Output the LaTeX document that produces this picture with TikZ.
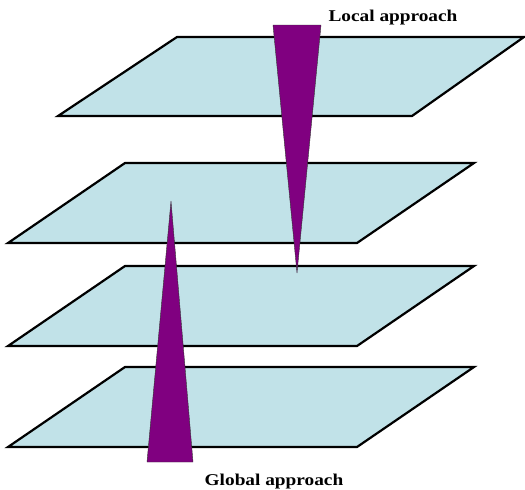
\documentclass[tikz,border=0pt]{standalone}
\usepackage{fontspec}
\newfontfamily\labelfont[FakeStretch=1.17]{Liberation Serif}
\usepackage{tikz}
\definecolor{planeblue}{RGB}{193,226,232}
\definecolor{wedgepurple}{RGB}{128,0,128}

\begin{document}
\begin{tikzpicture}[x=1pt,y=-1pt,
  plane/.style={fill=planeblue,draw=black,line width=2.2pt},
  wedge/.style={fill=wedgepurple,draw=black!80,line width=0.4pt},
  lbl/.style={font=\labelfont\bfseries\fontsize{16.5}{18}\selectfont,inner sep=0pt}]
  \useasboundingbox (0,0) rectangle (525,490);
  % the four planes, the top one sits further right
  \draw[plane] (177,37) -- (524,37) -- (412,116) -- (58,116) -- cycle;
  \foreach \t in {163,266,367}
    \draw[plane] (125,\t) -- (474,\t) -- (357,\t+80) -- (8,\t+80) -- cycle;
  % local wedge, narrowing downwards
  \coordinate (La) at (273,25); \coordinate (Lb) at (321,25); \coordinate (Ltip) at (297,273);
  \draw[wedge] (La) -- (Lb) -- (Ltip) -- cycle;
  % global wedge, narrowing upwards
  \coordinate (Ga) at (147,462); \coordinate (Gb) at (193,462); \coordinate (Gtip) at (171,201);
  \draw[wedge] (Ga) -- (Gb) -- (Gtip) -- cycle;
  \node[lbl,anchor=base] (local) at (393,21) {Local approach};
  \node[lbl,anchor=base] (global) at (274,485) {Global approach};
\end{tikzpicture}
\end{document}
